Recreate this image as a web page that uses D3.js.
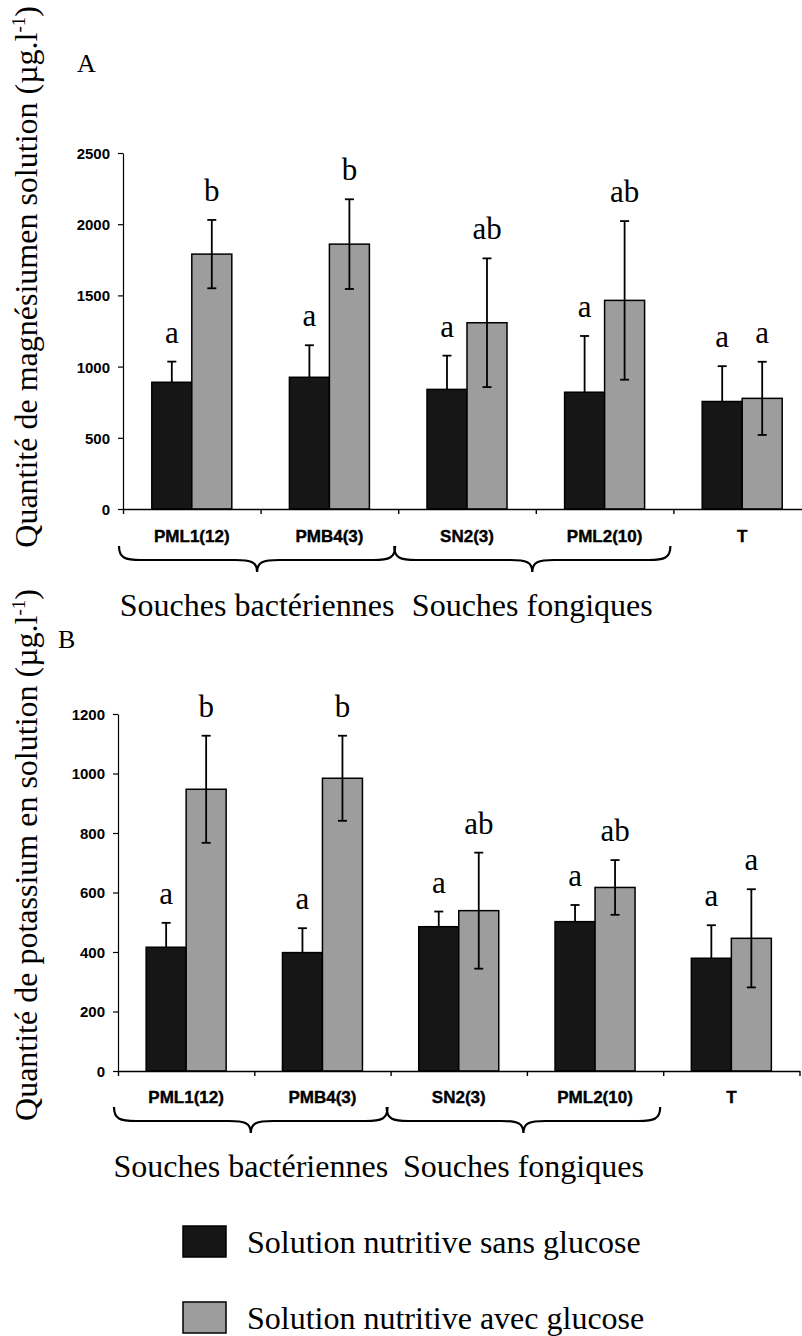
<!DOCTYPE html>
<html>
<head>
<meta charset="utf-8">
<script src="https://cdn.jsdelivr.net/npm/d3@7"></script>
<style>
  body { margin: 0; background: #fff; }
  svg { display: block; }
</style>
</head>
<body>
<svg id="chart" width="802" height="1336"></svg>
<script>
// categories and groups
var categories = ["PML1(12)", "PMB4(3)", "SN2(3)", "PML2(10)", "T"];
var seriesNames = ["Solution nutritive sans glucose", "Solution nutritive avec glucose"];
var groupLabels = ["Souches bactériennes", "Souches fongiques"];
var groupFrom = [0, 2];
var groupTo = [1, 3];

// A : magnesium
var mgTicks = [0, 500, 1000, 1500, 2000, 2500];
var mgSans = [890, 925, 840, 820, 755];
var mgSansErr = [145, 225, 237, 395, 248];
var mgAvec = [1790, 1860, 1308, 1465, 777];
var mgAvecErr = [240, 315, 452, 557, 257];
var mgLetSans = ["a", "a", "a", "a", "a"];
var mgLetAvec = ["b", "b", "ab", "ab", "a"];

// B : potassium
var kTicks = [0, 200, 400, 600, 800, 1000, 1200];
var kSans = [416, 398, 485, 502, 379];
var kSansErr = [82, 82, 51, 56, 111];
var kAvec = [947, 984, 539, 617, 446];
var kAvecErr = [180, 143, 195, 92, 165];
var kLetSans = ["a", "a", "a", "a", "a"];
var kLetAvec = ["b", "b", "ab", "ab", "a"];

var DARK = "#161616";
var GRAY = "#9d9d9d";
var SERIF = "'Liberation Serif', 'Times New Roman', serif";
var SANS = "'Liberation Sans', Arial, sans-serif";

var svg = d3.select("#chart");

function drawPanel(p) {
    var g = svg.append("g");
    var y = d3.scaleLinear().domain([0, p.ticks[p.ticks.length - 1]]).range([p.y0, p.y1]);
    var x = d3.scaleBand().domain(categories).range([p.x0, p.x1]);
    var xb = d3.scaleLinear().domain([0, categories.length]).range([p.x0, p.x1]);
    var xs = d3.scaleBand().domain([0, 1]).range([x.bandwidth() / 2 - 40, x.bandwidth() / 2 + 40]);

    var rows = categories.map(function(c, i) {
        return [
            {cat: c, s: 0, v: p.sans[i], e: p.sansErr[i], l: p.letSans[i]},
            {cat: c, s: 1, v: p.avec[i], e: p.avecErr[i], l: p.letAvec[i]}
        ];
    });
    var flat = d3.merge(rows);

    g.selectAll("rect.bar").data(flat).enter().append("rect")
        .attr("class", "bar")
        .attr("x", function(d) { return x(d.cat) + xs(d.s); })
        .attr("y", function(d) { return y(d.v); })
        .attr("width", xs.bandwidth())
        .attr("height", function(d) { return y(0) - y(d.v); })
        .style("fill", function(d) { return d.s == 0 ? DARK : GRAY; })
        .style("stroke", "#000")
        .style("stroke-width", 1.5);

    // error bars (lower half only visible on the grey bars)
    var lo = function(d) { return d.s == 0 ? y(d.v) : y(Math.max(0, d.v - d.e)); };
    var eb = g.selectAll("g.err").data(flat).enter().append("g").attr("class", "err")
        .attr("transform", function(d) { return "translate(" + (x(d.cat) + xs(d.s) + xs.bandwidth() / 2) + ",0)"; });
    eb.append("line")
        .attr("y1", function(d) { return y(d.v + d.e); })
        .attr("y2", lo)
        .style("stroke", "#000").style("stroke-width", 1.8);
    eb.append("line").attr("x1", -4.5).attr("x2", 4.5)
        .attr("y1", function(d) { return y(d.v + d.e); })
        .attr("y2", function(d) { return y(d.v + d.e); })
        .style("stroke", "#000").style("stroke-width", 1.8);
    eb.filter(function(d) { return d.s == 1; }).append("line").attr("x1", -4.5).attr("x2", 4.5)
        .attr("y1", lo).attr("y2", lo)
        .style("stroke", "#000").style("stroke-width", 1.8);
    eb.append("text")
        .attr("y", function(d) { return y(d.v + d.e) - 19; })
        .attr("text-anchor", "middle")
        .style("font-family", SERIF).style("font-size", "31px")
        .text(function(d) { return d.l; });

    // y axis
    var ya = g.append("g").attr("transform", "translate(" + p.x0 + ",0)")
        .call(d3.axisLeft(y).tickValues(p.ticks).tickSize(5).tickSizeOuter(0).tickPadding(8).tickFormat(d3.format("d")));
    ya.selectAll("text").style("font-family", SANS).style("font-weight", "bold").style("font-size", "15px").attr("dy", "0.36em");
    ya.selectAll("path, line").style("stroke", "#000").style("stroke-width", 1.2);

    // x axis: boundary ticks + category labels
    var xa = g.append("g").attr("transform", "translate(0," + p.y0 + ")")
        .call(d3.axisBottom(xb).ticks(categories.length).tickSize(5).tickSizeOuter(0).tickFormat(""));
    xa.selectAll("path, line").style("stroke", "#000").style("stroke-width", 1.4);
    var xl = g.append("g").attr("transform", "translate(0," + p.y0 + ")")
        .call(d3.axisBottom(x).tickSize(0));
    xl.select(".domain").remove();
    xl.selectAll("text").attr("y", p.catOff).attr("dy", null)
        .style("font-family", SANS).style("font-weight", "bold").style("font-size", "17px")
        .style("stroke", "#000").style("stroke-width", 0.4);

    // braces and group labels
    var base = p.y0 + p.catOff;
    groupLabels.forEach(function(lab, i) {
        var a = xb(groupFrom[i]) - 4, b = xb(groupTo[i] + 1) - 3, m = (a + b) / 2;
        var t = base + 4, f = base + 18, tip = base + 30, r = 22;
        var path = "M" + a + "," + t + " C" + a + "," + (f - 2) + " " + (a + 6) + "," + f + " " + (a + r) + "," + f +
            " L" + (m - r) + "," + f + " C" + (m - 6) + "," + f + " " + m + "," + (f + 2) + " " + m + "," + tip +
            " C" + m + "," + (f + 2) + " " + (m + 6) + "," + f + " " + (m + r) + "," + f +
            " L" + (b - r) + "," + f + " C" + (b - 6) + "," + f + " " + b + "," + (f - 2) + " " + b + "," + t;
        g.append("path").attr("d", path).style("fill", "none").style("stroke", "#000").style("stroke-width", 2.2);
        g.append("text").attr("x", m).attr("y", base + 74).attr("text-anchor", "middle")
            .style("font-family", SERIF).style("font-size", "32px").text(lab);
    });

    // panel letter
    g.append("text").attr("x", p.letterX).attr("y", p.letterY)
        .style("font-family", SERIF).style("font-size", "26px").text(p.letter);

    // y title
    var tt = g.append("text")
        .attr("transform", "translate(37," + p.titleEnd + ") rotate(-90)")
        .attr("text-anchor", "end")
        .style("font-family", SERIF).style("font-size", "32px");
    tt.append("tspan").text(p.title + " (µg.l");
    tt.append("tspan").attr("dy", -12).style("font-size", "19px").text("-1");
    tt.append("tspan").attr("dy", 12).text(")");
}

drawPanel({
    y0: 509, y1: 153, x0: 123, x1: 811, ticks: mgTicks,
    sans: mgSans, sansErr: mgSansErr, avec: mgAvec, avecErr: mgAvecErr,
    letSans: mgLetSans, letAvec: mgLetAvec, catOff: 33,
    letter: "A", letterX: 77, letterY: 72,
    title: "Quantité de magnésiumen solution", titleEnd: 6
});

drawPanel({
    y0: 1071, y1: 714, x0: 118, x1: 799.5, ticks: kTicks,
    sans: kSans, sansErr: kSansErr, avec: kAvec, avecErr: kAvecErr,
    letSans: kLetSans, letAvec: kLetAvec, catOff: 32,
    letter: "B", letterX: 58, letterY: 648,
    title: "Quantité de potassium en solution", titleEnd: 589
});

// legend
var leg = svg.append("g").selectAll("g").data(seriesNames).enter().append("g")
    .attr("transform", function(d, i) { return "translate(183," + (1226 + i * 76) + ")"; });
leg.append("rect").attr("width", 43).attr("height", 31)
    .style("fill", function(d, i) { return i == 0 ? DARK : GRAY; })
    .style("stroke", "#000").style("stroke-width", 1.5);
leg.append("text").attr("x", 64).attr("y", 27)
    .style("font-family", SERIF).style("font-size", "32px")
    .text(function(d) { return d; });
</script>
</body>
</html>
